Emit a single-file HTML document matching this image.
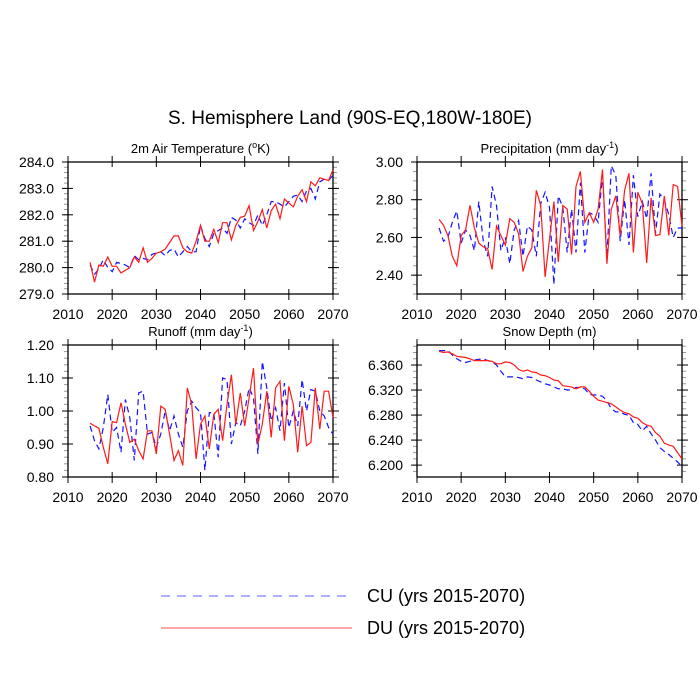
<!DOCTYPE html>
<html><head><meta charset="utf-8"><style>
body{margin:0;background:#fff}
svg{display:block;font-family:"Liberation Sans",Arial,sans-serif}
</style></head><body>
<svg id="c" width="700" height="700" viewBox="0 0 700 700">
<text x="350" y="124" font-size="19" text-anchor="middle">S. Hemisphere Land (90S-EQ,180W-180E)</text>
<g id="panels"></g>
<g>
<line x1="161" y1="596" x2="352" y2="596" stroke="#7f7fff" stroke-width="1.2" stroke-dasharray="9,7"/>
<text x="367" y="602" font-size="18">CU (yrs 2015-2070)</text>
<line x1="161" y1="628" x2="352" y2="628" stroke="#ff7070" stroke-width="1.2"/>
<text x="367" y="634" font-size="18">DU (yrs 2015-2070)</text>
</g>
</svg>
<script>
const years = []; for (let y = 2015; y <= 2070; y++) years.push(y);
const xTicks = [2010, 2020, 2030, 2040, 2050, 2060, 2070];
const tempCU = [280.1,279.75,279.95,280.3,280.0,279.85,280.2,280.15,280.1,280.0,280.45,280.3,280.35,280.3,280.5,280.55,280.6,280.45,280.65,280.7,280.4,280.6,280.8,280.6,280.6,281.6,281.1,280.8,281.3,281.4,281.5,281.3,281.9,281.8,281.5,281.85,281.7,281.6,282.0,281.6,282.0,282.5,282.5,282.4,282.3,282.5,282.7,282.75,282.5,282.9,283.0,282.6,283.25,283.35,283.3,283.5];
const tempDU = [280.2,279.45,280.1,280.05,280.4,280.05,280.05,279.8,279.9,280.0,280.4,280.2,280.75,280.2,280.35,280.55,280.6,280.7,280.95,281.2,281.2,280.75,280.6,280.55,281.0,281.6,281.0,281.0,281.45,280.95,281.7,281.7,281.05,281.6,281.9,281.95,282.35,281.4,281.75,282.2,281.5,282.15,282.4,281.85,282.6,282.45,282.3,282.7,282.95,282.5,283.25,283.1,283.4,283.35,283.3,283.7];
const precCU = [2.65,2.58,2.60,2.68,2.74,2.57,2.64,2.61,2.53,2.79,2.58,2.50,2.87,2.77,2.53,2.60,2.46,2.64,2.69,2.50,2.66,2.64,2.50,2.78,2.84,2.76,2.35,2.82,2.76,2.52,2.75,2.52,2.89,2.52,2.73,2.72,2.68,2.93,2.49,2.98,2.93,2.58,2.80,2.56,2.93,2.71,2.79,2.70,2.94,2.62,2.83,2.80,2.72,2.60,2.65,2.65];
const precDU = [2.695,2.665,2.61,2.50,2.45,2.61,2.64,2.77,2.65,2.57,2.55,2.54,2.43,2.66,2.61,2.56,2.70,2.68,2.62,2.42,2.50,2.545,2.85,2.77,2.39,2.59,2.79,2.47,2.77,2.75,2.51,2.87,2.95,2.68,2.73,2.68,2.75,2.96,2.46,2.75,2.82,2.61,2.85,2.94,2.52,2.84,2.78,2.465,2.81,2.61,2.615,2.82,2.61,2.88,2.87,2.66];
const runCU = [0.955,0.91,0.885,0.95,1.05,0.935,0.95,0.875,1.035,0.98,0.85,1.055,1.06,0.93,0.935,0.89,0.93,1.00,0.94,0.985,0.93,0.89,1.00,1.03,1.01,0.995,0.82,0.995,0.995,0.86,1.10,1.095,0.90,0.965,0.955,1.00,1.07,1.04,0.87,1.15,1.07,0.97,1.01,0.94,1.085,0.95,1.00,0.955,1.095,1.00,1.065,1.06,1.00,0.985,0.95,0.93];
const runDU = [0.963,0.955,0.948,0.89,0.84,0.968,0.965,1.025,0.96,0.905,0.915,0.88,0.855,0.94,0.94,0.87,1.015,1.005,0.93,0.85,0.88,0.835,1.07,1.02,0.855,0.96,0.985,0.885,0.99,1.005,0.91,1.02,1.11,0.96,1.055,0.955,1.04,1.13,0.90,0.96,1.06,0.92,1.07,1.09,0.91,1.075,1.02,0.875,1.015,0.895,0.905,1.07,0.945,1.06,1.06,0.98];
const snowCU = [6.383,6.383,6.383,6.376,6.370,6.366,6.364,6.366,6.368,6.369,6.370,6.367,6.365,6.360,6.350,6.341,6.341,6.341,6.340,6.338,6.341,6.340,6.336,6.333,6.330,6.328,6.325,6.322,6.322,6.320,6.320,6.324,6.324,6.322,6.313,6.312,6.312,6.310,6.303,6.290,6.285,6.285,6.281,6.280,6.268,6.265,6.255,6.262,6.250,6.240,6.228,6.222,6.217,6.211,6.205,6.198];
const snowDU = [6.382,6.380,6.381,6.378,6.374,6.373,6.372,6.370,6.367,6.367,6.367,6.367,6.366,6.362,6.362,6.365,6.364,6.360,6.353,6.350,6.352,6.349,6.348,6.344,6.343,6.340,6.336,6.335,6.327,6.326,6.325,6.322,6.325,6.325,6.318,6.310,6.304,6.302,6.300,6.298,6.293,6.288,6.284,6.282,6.277,6.275,6.268,6.264,6.262,6.252,6.246,6.235,6.232,6.230,6.220,6.210];
const tempTicks = [279,280,281,282,283,284];
const precTicks = [2.4,2.6,2.8,3.0];
const runTicks = [0.8,0.9,1.0,1.1,1.2];
const snowTicks = [6.20,6.24,6.28,6.32,6.36];

const NS = 'http://www.w3.org/2000/svg';
const root = document.getElementById('panels');
function mk(tag, attrs, parent) {
  const e = document.createElementNS(NS, tag);
  for (const k in attrs) e.setAttribute(k, attrs[k]);
  parent.appendChild(e); return e;
}
const panels = [
  {name:'temperature', title:'2m Air Temperature (', sup:'o', after:'K)', supPre:true, x0:68, x1:333, y0:162, y1:294, ymin:279, ymax:284, ticks:tempTicks, dec:1, minorStep:0.2, cu:tempCU, du:tempDU},
  {name:'precipitation', title:'Precipitation (mm day', sup:'-1', after:')', x0:417, x1:682, y0:162, y1:294, ymin:2.3, ymax:3.0, ticks:precTicks, dec:2, minorStep:0.05, cu:precCU, du:precDU},
  {name:'runoff', title:'Runoff (mm day', sup:'-1', after:')', x0:68, x1:333, y0:345, y1:477, ymin:0.8, ymax:1.2, ticks:runTicks, dec:2, minorStep:0.02, cu:runCU, du:runDU},
  {name:'snow-depth', title:'Snow Depth (m)', x0:417, x1:682, y0:345, y1:477, ymin:6.181, ymax:6.392, ticks:snowTicks, dec:3, minorStep:0.01, cu:snowCU, du:snowDU}
];
panels.forEach(p => {
  const g = mk('g', {}, root);
  
  
  const xs = v => p.x0 + (v - 2010) / 60 * (p.x1 - p.x0);
  const ys = v => p.y1 - (v - p.ymin) / (p.ymax - p.ymin) * (p.y1 - p.y0);
  const t = mk('text', {x:(p.x0+p.x1)/2, y:p.y0-9, 'font-size':13, 'text-anchor':'middle'}, g);
  
  
  t.textContent = p.title;
  if (p.sup) {
    const s = mk('tspan', {'font-size':9, dy:-5}, t); s.textContent = p.sup;
    const a = mk('tspan', {'font-size':13, dy:5}, t); a.textContent = p.after;
  }
  // minor y ticks
  const n = Math.round((p.ymax - p.ymin) / p.minorStep) + 2;
  const start = Math.ceil(p.ymin / p.minorStep - 1e-6) * p.minorStep;
  for (let i = 0; i < n; i++) {
    const v = start + i * p.minorStep;
    if (v > p.ymax + 1e-9) break;
    const y = ys(v);
    mk('line', {x1:p.x0-4, x2:p.x0, y1:y, y2:y, stroke:'#999', 'stroke-width':1}, g);
    mk('line', {x1:p.x1, x2:p.x1+4, y1:y, y2:y, stroke:'#999', 'stroke-width':1}, g);
  }
  p.ticks.forEach(v => {
    const y = ys(v);
    mk('line', {x1:p.x0-6, x2:p.x0+5, y1:y, y2:y, stroke:'#000', 'stroke-width':1}, g);
    mk('line', {x1:p.x1-5, x2:p.x1+6, y1:y, y2:y, stroke:'#000', 'stroke-width':1}, g);
    const l = mk('text', {x:p.x0-14, y:y+5, 'font-size':14, 'text-anchor':'end'}, g);
    
    
    l.textContent = v.toFixed(p.dec);
  });
  xTicks.forEach(v => {
    const x = xs(v);
    mk('line', {x1:x, x2:x, y1:p.y1-5, y2:p.y1+6, stroke:'#000', 'stroke-width':1}, g);
    mk('line', {x1:x, x2:x, y1:p.y0-6, y2:p.y0+5, stroke:'#000', 'stroke-width':1}, g);
    const l = mk('text', {x:x, y:p.y1+25, 'font-size':14, 'text-anchor':'middle'}, g);
    
    
    l.textContent = v;
  });
  const fr = mk('rect', {x:p.x0, y:p.y0, width:p.x1-p.x0, height:p.y1-p.y0, fill:'none', stroke:'#000', 'stroke-width':1.3}, g);
  
  
  const cu = mk('polyline', {points:years.map((yr,i)=>xs(yr).toFixed(1)+','+ys(p.cu[i]).toFixed(1)).join(' '), fill:'none', stroke:'#1414ff', 'stroke-width':1.2, 'stroke-dasharray':'6,4'}, g);
  
  
  const du = mk('polyline', {points:years.map((yr,i)=>xs(yr).toFixed(1)+','+ys(p.du[i]).toFixed(1)).join(' '), fill:'none', stroke:'#ff1a1a', 'stroke-width':1.2}, g);
  
  
});
</script>
</body></html>
